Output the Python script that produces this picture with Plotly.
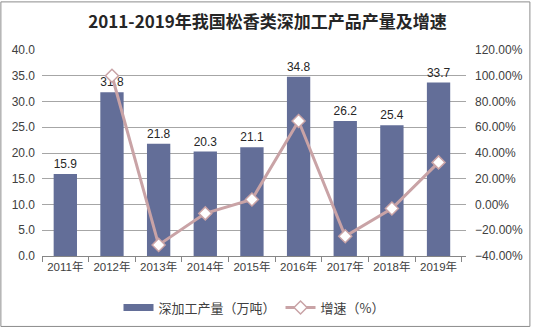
import plotly.graph_objects as go

years = ["2011年", "2012年", "2013年", "2014年", "2015年", "2016年", "2017年", "2018年", "2019年"]
output = [15.9, 31.8, 21.8, 20.3, 21.1, 34.8, 26.2, 25.4, 33.7]
growth_years = years[1:]
growth = [1.00, -0.314, -0.069, 0.039, 0.649, -0.247, -0.031, 0.327]

L, R, T, B = 42, 65, 50, 73
W, H = 535, 335
pw, ph = W - L - R, H - T - B
BAR = "#636e98"
LINE = "#c9a3a6"

fig = go.Figure()
fig.add_trace(go.Bar(
    x=years, y=output, name="深加工产量（万吨）", showlegend=False,
    marker=dict(color=BAR, line=dict(width=0)),
    width=0.5,
    text=[f"{v:.1f}" for v in output], textposition="outside",
    textfont=dict(family="Liberation Sans, Arial", size=12.5, color="#262626"),
    cliponaxis=False,
))
fig.add_trace(go.Scatter(
    x=[None], y=[None], name="深加工产量（万吨）", mode="lines",
    line=dict(color=BAR, width=7),
))
fig.add_trace(go.Scatter(
    x=growth_years, y=growth, name="增速（%）", yaxis="y2",
    mode="lines+markers",
    line=dict(color=LINE, width=3),
    marker=dict(symbol="diamond", size=10, color="white", line=dict(color=LINE, width=1.5)),
))

fig.update_layout(
    width=W, height=H,
    margin=dict(l=L, r=R, t=T, b=B),
    paper_bgcolor="white", plot_bgcolor="white",
    title=dict(text="<b>2011-2019年我国松香类深加工产品产量及增速</b>",
               x=0.5, xanchor="center", y=1 - 22 / H, yanchor="middle",
               font=dict(family="Noto Sans CJK SC", size=17, color="#262626")),
    font=dict(family="Liberation Sans, Arial", size=12, color="#404040"),
    showlegend=True,
    legend=dict(orientation="h", x=0.5, xanchor="center", y=-(315 - 262) / ph, yanchor="middle",
                font=dict(family="Noto Sans CJK SC", size=13, color="#404040"),
                itemwidth=30, tracegroupgap=0),
    xaxis=dict(type="category", showline=True, linecolor="#868686", linewidth=1,
               ticks="outside", tickson="boundaries", ticklen=5, tickcolor="#868686",
               tickangle=0,
               tickfont=dict(family="Liberation Sans, Noto Sans CJK SC", size=11.5, color="#404040"),
               showgrid=False),
    yaxis=dict(range=[0, 40], dtick=5, tickformat=".1f", showgrid=True, gridcolor="#a6a6a6",
               gridwidth=1, zeroline=False, showline=False, ticks="", ticklabelstandoff=6,
               tickfont=dict(size=12, color="#404040")),
    yaxis2=dict(range=[-0.4, 1.2], dtick=0.2, tickformat=".2%", overlaying="y", side="right",
                showgrid=False, zeroline=False, showline=False, ticks="", ticklabelstandoff=8,
                tickfont=dict(size=12, color="#404040")),
    shapes=[dict(type="rect", xref="paper", yref="paper",
                 x0=(0.5 - L) / pw, x1=(W - 0.5 - L) / pw,
                 y0=-(H - 0.5 - (T + ph)) / ph, y1=(T + ph - 0.5) / ph,
                 line=dict(color="#8c8c8c", width=1), layer="below")],
)

fig.write_html("out.html")
